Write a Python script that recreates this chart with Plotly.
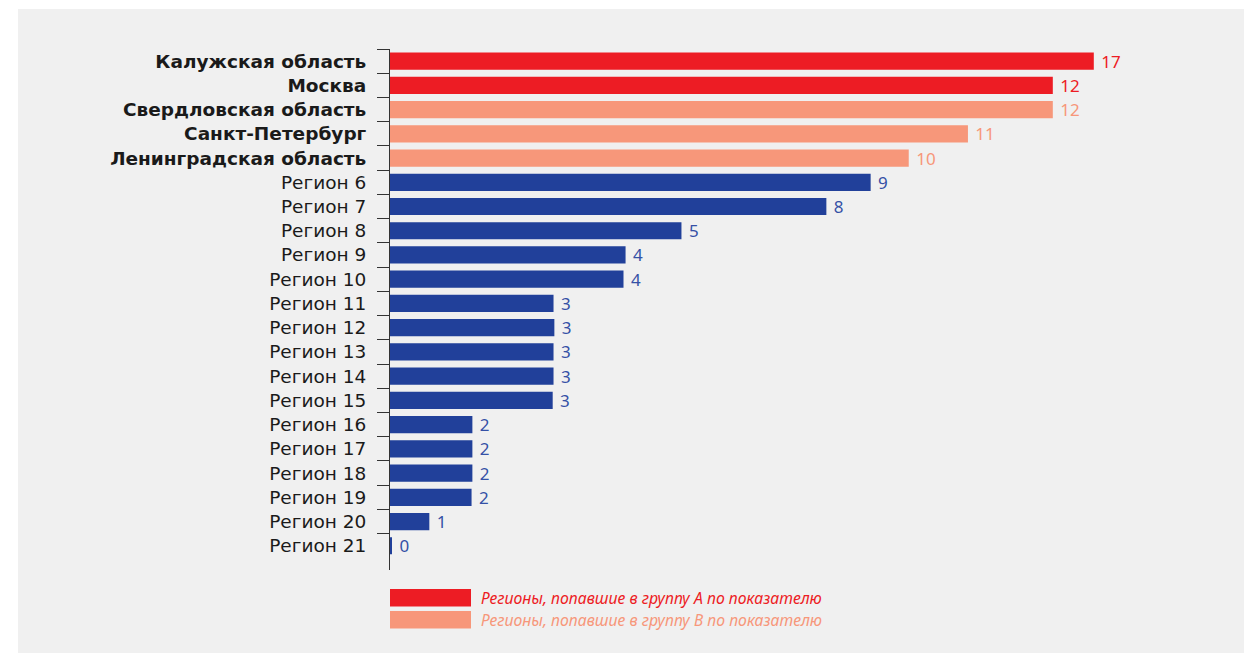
import plotly.graph_objects as go

# ---- data ----
regions = [
    "Калужская область", "Москва", "Свердловская область", "Санкт-Петербург",
    "Ленинградская область", "Регион 6", "Регион 7", "Регион 8", "Регион 9",
    "Регион 10", "Регион 11", "Регион 12", "Регион 13", "Регион 14", "Регион 15",
    "Регион 16", "Регион 17", "Регион 18", "Регион 19", "Регион 20", "Регион 21",
]
bar_values = [17.0, 16.01, 16.01, 13.96, 12.53, 11.61, 10.54, 7.04, 5.69, 5.64,
              3.95, 3.97, 3.95, 3.95, 3.93, 1.99, 1.99, 1.99, 1.97, 0.95, 0.04]
label_values = [17, 12, 12, 11, 10, 9, 8, 5, 4, 4, 3, 3, 3, 3, 3, 2, 2, 2, 2, 1, 0]
groups = ["A", "A", "B", "B", "B"] + ["C"] * 16
legend_labels = {
    "A": "Регионы, попавшие в группу А по показателю",
    "B": "Регионы, попавшие в группу В по показателю",
}

# ---- style ----
OFF = 8  # page body margin
W, H = 1252 - OFF, 653 - OFF
ML, MR, MT, MB = 390 - OFF, 34, 49 - OFF, 83
PW, PH = W - ML - MR, H - MT - MB
bar_colors = {"A": "#ED1C24", "B": "#F7977A", "C": "#21409A"}
text_colors = {"A": "#ED1C24", "B": "#F7977A", "C": "#3551A6"}
BG = "#f0f0f0"

def px_x(px):  # page pixel -> paper x
    return (px - OFF - ML) / PW

def px_y(py):  # page pixel -> paper y
    return (H - MB - (py - OFF)) / PH

ypos = list(range(len(regions)))
ticktext = [f"<b>{r}</b>" if g in ("A", "B") else r for r, g in zip(regions, groups)]

fig = go.Figure()
fig.add_trace(go.Bar(
    x=bar_values,
    y=ypos,
    orientation="h",
    width=0.71,
    marker=dict(color=[bar_colors[g] for g in groups], line=dict(width=0)),
    text=["\u00a0" + str(v) for v in label_values],
    textposition="outside",
    constraintext="none",
    textfont=dict(family="Noto Sans", size=17, color=[text_colors[g] for g in groups]),
    cliponaxis=False,
    hoverinfo="skip",
    showlegend=False,
))

# background panel
fig.add_shape(type="rect", xref="paper", yref="paper",
              x0=px_x(18), x1=px_x(1262), y0=px_y(663), y1=px_y(9),
              fillcolor=BG, line=dict(width=0), layer="below")

# legend (manual)
leg_rows = [("A", 589, 606.5), ("B", 611, 628.5)]
for g, top, bot in leg_rows:
    fig.add_shape(type="rect", xref="paper", yref="paper",
                  x0=px_x(390), x1=px_x(471), y0=px_y(bot), y1=px_y(top),
                  fillcolor=bar_colors[g], line=dict(width=0))
    fig.add_annotation(xref="paper", yref="paper", x=px_x(479), y=px_y((top + bot) / 2),
                       xanchor="left", yanchor="middle", showarrow=False,
                       text=f"<i>{legend_labels[g]}</i>",
                       font=dict(family="Noto Sans", size=15.8, color=bar_colors[g]))

fig.update_layout(
    width=W, height=H,
    margin=dict(l=ML, r=MR, t=MT, b=MB, pad=0),
    paper_bgcolor="white",
    plot_bgcolor="rgba(0,0,0,0)",
    xaxis=dict(range=[0, 20], visible=False, showgrid=False, zeroline=False),
    yaxis=dict(
        range=[21, -0.5], tickmode="array", tickvals=ypos, ticktext=ticktext,
        ticks="", showline=True, linecolor="#333333", linewidth=1,
        showgrid=False, zeroline=False, ticklabelstandoff=19,
        tickfont=dict(family="DejaVu Sans", size=18.5, color="#1a1a1a"),
        minor=dict(tickmode="array", tickvals=[i - 0.5 for i in ypos],
                   ticks="outside", ticklen=12, tickcolor="#333333", tickwidth=1,
                   showgrid=False),
    ),
)

fig.write_html("out.html")
